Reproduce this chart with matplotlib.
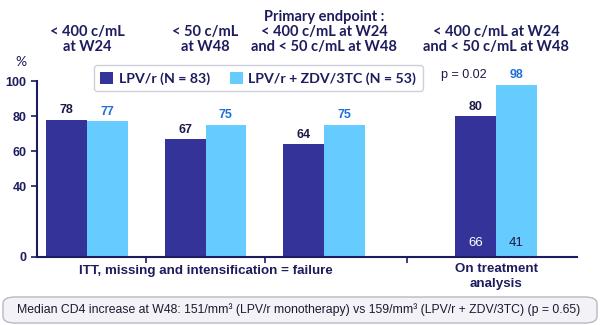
import matplotlib
matplotlib.use("Agg")
import matplotlib.pyplot as plt
from matplotlib.patches import FancyBboxPatch, Patch
from matplotlib.transforms import blended_transform_factory, ScaledTranslation

# values
HEADERS = [
    "< 400 c/mL\nat W24",
    "< 50 c/mL\nat W48",
    "Primary endpoint :\n< 400 c/mL at W24\nand < 50 c/mL at W48",
    "< 400 c/mL at W24\nand < 50 c/mL at W48",
]
LPV_R = [78, 67, 64, 80]
LPV_R_ZDV = [77, 75, 75, 98]
SERIES_LABELS = ["LPV/r (N = 83)", "LPV/r + ZDV/3TC (N = 53)"]
OT_N = [66, 41]
P_VALUE = "p = 0.02"
Y_TICKS = [0, 40, 60, 80, 100]
GROUP_LABELS = ["ITT, missing and intensification = failure", "On treatment\nanalysis"]
FOOTNOTE = (
    "Median CD4 increase at W48: 151/mm\u00b3 (LPV/r monotherapy) vs "
    "159/mm\u00b3 (LPV/r + ZDV/3TC) (p = 0.65)"
)

DARK = "#333399"
LIGHT = "#66ccff"
NAVY = "#1c1c5e"
DARK_LBL = "#1a1a48"
LIGHT_LBL = "#1f6fd9"
HEAD_FONT = "Lato"
ARIAL = "Liberation Sans"

W, H = 600, 325
POS = [0, 1, 2, 3.45]
BAR_W = 0.343


def fpx(x, y):
    # pixel position -> figure fraction
    return x / W, 1 - y / H


fig = plt.figure(figsize=(W / 100, H / 100), dpi=100)
ax = fig.add_axes([37 / W, 1 - 256.7 / H, 539.7 / W, 175.7 / H])

x_dark = [p - BAR_W / 2 for p in POS]
x_light = [p + BAR_W / 2 for p in POS]
ax.bar(x_dark, LPV_R, BAR_W, color=DARK, zorder=2)
ax.bar(x_light, LPV_R_ZDV, BAR_W, color=LIGHT, zorder=2)

for x, v in zip(x_dark, LPV_R):
    ax.annotate(str(v), (x, v), xytext=(0, 2.5), textcoords="offset points",
                ha="center", va="bottom", fontsize=9, fontweight="bold",
                color=DARK_LBL, family=ARIAL)
for x, v in zip(x_light, LPV_R_ZDV):
    ax.annotate(str(v), (x, v), xytext=(0, 2.5), textcoords="offset points",
                ha="center", va="bottom", fontsize=9, fontweight="bold",
                color=LIGHT_LBL, family=ARIAL)

# on-treatment patient numbers inside the bars
ax.text(x_dark[3], 8, str(OT_N[0]), ha="center", va="center", fontsize=9.5,
        color="white", family=ARIAL)
ax.text(x_light[3], 8, str(OT_N[1]), ha="center", va="center", fontsize=9.5,
        color=DARK_LBL, family=ARIAL)
ax.text(x_dark[3] - 0.1, LPV_R_ZDV[3], P_VALUE, ha="center", va="bottom",
        fontsize=9, color=DARK_LBL, family=ARIAL,
        transform=ax.transData + ScaledTranslation(0, 2.5 / 72, fig.dpi_scale_trans))

ax.set_xlim(-0.422, 4.13)
ax.set_ylim(0, 100)
ax.set_yticks(Y_TICKS)
ax.set_yticklabels([str(t) for t in Y_TICKS], fontsize=9, fontweight="bold",
                   color=NAVY, family=ARIAL)
ax.set_xticks([0.5, 1.5, 2.7])
ax.set_xticklabels([])
ax.tick_params(axis="both", direction="out", length=4, width=1.2, color=NAVY)
for side in ["top", "right"]:
    ax.spines[side].set_visible(False)
for side in ["left", "bottom"]:
    ax.spines[side].set_color(NAVY)
    ax.spines[side].set_linewidth(1.5)

# column headers
tr = blended_transform_factory(ax.transData, fig.transFigure)
for p, h in zip(POS, HEADERS):
    ax.text(p, fpx(0, 54)[1], h, transform=tr, ha="center", va="bottom",
            fontsize=10.5, fontweight="bold", color=NAVY, family=HEAD_FONT,
            linespacing=1.08)

fig.text(*fpx(21, 62), "%", ha="center", va="center", fontsize=10,
         color=NAVY, family=HEAD_FONT)

# group labels under the axis
ax.text(1.0, fpx(0, 271)[1], GROUP_LABELS[0], transform=tr, ha="center",
        va="center", fontsize=9.6, fontweight="bold", color=NAVY, family=ARIAL)
ax.text(POS[3], fpx(0, 276.5)[1], GROUP_LABELS[1], transform=tr, ha="center",
        va="center", fontsize=9.6, fontweight="bold", color=NAVY, family=ARIAL,
        linespacing=1.4)

handles = [Patch(facecolor=DARK), Patch(facecolor=LIGHT)]
leg = fig.legend(handles, SERIES_LABELS, ncol=2, loc="center",
                 bbox_to_anchor=fpx(258.3, 78.3), frameon=True, fancybox=True,
                 handlelength=0.9, handleheight=0.9, handletextpad=0.4,
                 columnspacing=1.4, borderpad=0.45, borderaxespad=0,
                 prop={"family": HEAD_FONT, "weight": "bold", "size": 10.2})
leg.get_frame().set_edgecolor("#c4c4d4")
leg.get_frame().set_linewidth(1.0)
for t in leg.get_texts():
    t.set_color(NAVY)

# footnote box
x0, y0 = fpx(3, 323)
x1, y1 = fpx(597, 297)
box = FancyBboxPatch((x0, y0), x1 - x0, y1 - y0, boxstyle="round,pad=0,rounding_size=0.02",
                     transform=fig.transFigure, facecolor="#f3f3f7",
                     edgecolor="#b8b8c8", linewidth=1.0)
fig.patches.append(box)
fig.text(*fpx(298.5, 310), FOOTNOTE, ha="center", va="center", fontsize=8.8,
         color="#1a1a30", family=ARIAL)

fig.savefig("out.png", dpi=100)
